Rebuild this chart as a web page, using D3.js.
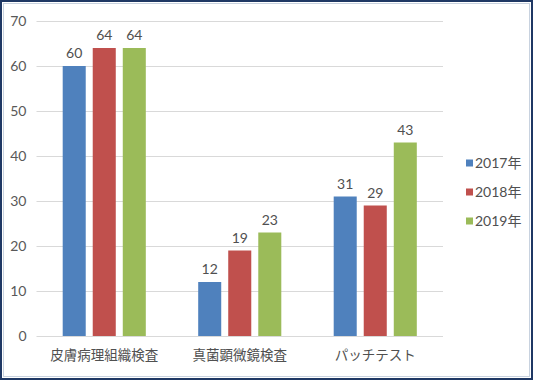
<!DOCTYPE html>
<html><head><meta charset="utf-8">
<script src="https://cdn.jsdelivr.net/npm/d3@7"></script>
<style>
html,body{margin:0;padding:0;background:#fff;}
svg{display:block;}
text{font-family:Lato,"Noto Sans CJK JP",sans-serif;}
</style></head><body>
<svg id="c" width="533" height="380"></svg>
<script>
const categories = ["皮膚病理組織検査","真菌顕微鏡検査","パッチテスト"];
const seriesNames = ["2017年","2018年","2019年"];
const v2017 = [60,12,31];
const v2018 = [64,19,29];
const v2019 = [64,23,43];
const yTicks = [0,10,20,30,40,50,60,70];
const colors = ["#4f81bd","#c0504d","#9bbb59"];
const seriesValues = [v2017,v2018,v2019];

(function(){
const svg = d3.select("#c");
const W=533,H=380;
svg.append("rect").attr("x",1).attr("y",1).attr("width",W-2).attr("height",H-2)
  .attr("fill","#fff").attr("stroke","#1f3864").attr("stroke-width",2);
svg.append("rect").attr("x",3.5).attr("y",3.5).attr("width",W-7).attr("height",H-7)
  .attr("fill","none").attr("stroke","#c8d2df").attr("stroke-width",1);

const pL=36.5,pR=443,pT=21,pB=336;
const y = d3.scaleLinear().domain([0,70]).range([pB,pT]);
const x0 = d3.scaleBand().domain(categories).range([pL,pR]).padding(0);
const outer = 26.2;
const x1 = d3.scaleBand().domain(seriesNames).range([outer, x0.bandwidth()-outer]).paddingInner(0.2333).paddingOuter(0);

const yAxis = d3.axisLeft(y).tickValues(yTicks).tickSize(-(pR-pL)).tickPadding(10);
const ga = svg.append("g").attr("transform",`translate(${pL},0)`).call(yAxis);
ga.select(".domain").remove();
ga.selectAll(".tick line").attr("stroke","#d9d9d9").attr("stroke-width",1);
ga.selectAll(".tick text").attr("fill","#595959").style("font-size","14px");

const groups = svg.append("g").selectAll("g").data(categories).join("g")
  .attr("transform",c=>`translate(${x0(c)},0)`);
seriesNames.forEach((s,si)=>{
  groups.append("rect")
    .attr("x",x1(s)).attr("width",x1.bandwidth())
    .attr("y",(c,ci)=>y(seriesValues[si][ci]))
    .attr("height",(c,ci)=>pB-y(seriesValues[si][ci]))
    .attr("fill",colors[si]);
  groups.append("text")
    .attr("x",x1(s)+x1.bandwidth()/2)
    .attr("y",(c,ci)=>y(seriesValues[si][ci])-8)
    .attr("text-anchor","middle")
    .attr("fill","#505050").style("font-size","14px")
    .text((c,ci)=>seriesValues[si][ci]);
});

const xAxis = d3.axisBottom(x0).tickSize(0).tickPadding(14);
const gx = svg.append("g").attr("transform",`translate(0,${pB})`).call(xAxis);
gx.select(".domain").remove();
gx.selectAll(".tick text").attr("fill","#505050").style("font-size","13.5px")
  .style("font-family","'Noto Sans CJK JP',sans-serif");

const lg = svg.append("g").selectAll("g").data(seriesNames).join("g")
  .attr("transform",(d,i)=>`translate(466,${163+i*29})`);
lg.append("rect").attr("x",0).attr("y",-3.5).attr("width",7).attr("height",7).attr("fill",(d,i)=>colors[i]);
lg.append("text").attr("x",9).attr("y",0).attr("dy","0.36em").attr("fill","#505050")
  .style("font-size","14px").text(d=>d);
})();
</script>
</body></html>
